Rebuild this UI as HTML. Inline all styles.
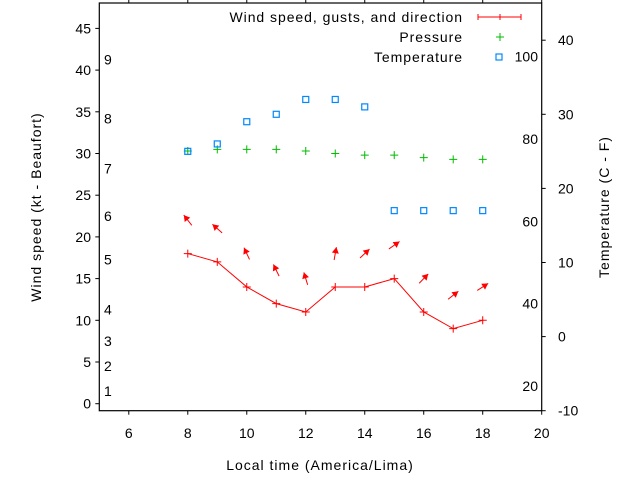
<!DOCTYPE html>
<html><head><meta charset="utf-8"><style>
html,body{margin:0;padding:0;background:#fff;}
svg{display:block;font-family:"Liberation Sans",sans-serif;}
</style></head><body>
<svg id="chart" width="640" height="480" viewBox="0 0 640 480" xmlns="http://www.w3.org/2000/svg"></svg>
<script>
const hours = [8,9,10,11,12,13,14,15,16,17,18];
const windKt = [18,17,14,12,11,14,14,15,11,9,10];
const gustKt = [22,21,18,16,15,18,18,19,15,13,14];
const windDirDeg = [322,312,335,334,343,10,47,55,44,52,57];
const pressure = [30.3,30.5,30.5,30.5,30.3,30.0,29.8,29.8,29.5,29.3,29.3];
const tempC = [25,26,29,30,32,32,31,17,17,17,17];
const xTicks = [6,8,10,12,14,16,18,20];
const yLeftTicks = [0,5,10,15,20,25,30,35,40,45];
const yRightTicks = [-10,0,10,20,30,40];
const beaufort = [[1,1.5],[2,4.5],[3,7.5],[4,11.3],[5,17.3],[6,22.5],[7,28.2],[8,34.2],[9,41.3]];
const fahrenheit = [20,40,60,80,100];

const L=99.3,R=541.7,T=3,B=410.7;
const X0=5,X1=20;
const x = v => L + (v-X0)/(X1-X0)*(R-L);
const yL = v => 403.7 - v*8.34;
const yR = v => 410.7 - (v+10)*7.41;
const NS="http://www.w3.org/2000/svg";
const svg=document.getElementById('chart');
function mk(tag,attrs,parent){const e=document.createElementNS(NS,tag);for(const k in attrs)e.setAttribute(k,attrs[k]);(parent||svg).appendChild(e);return e;}
function txt(s,attrs){const e=mk('text',Object.assign({'font-size':'14',fill:'#000'},attrs));e.textContent=s;return e;}

let frame=mk('rect',{x:L,y:T,width:R-L,height:B-T,fill:'none',stroke:'#000','stroke-width':1.2});



xTicks.forEach(v=>{
  let l=mk('line',{x1:x(v),x2:x(v),y1:B,y2:B+4,stroke:'#000'});
  
  
  let l2=mk('line',{x1:x(v),x2:x(v),y1:T,y2:T-4,stroke:'#000'});
  
  
  let t=txt(String(v),{x:x(v),y:438,'text-anchor':'middle'});
  
  
});
yLeftTicks.forEach(v=>{
  let l=mk('line',{x1:L-4,x2:L,y1:yL(v),y2:yL(v),stroke:'#000'});
  
  
  let t=txt(String(v),{x:91,y:yL(v)+5,'text-anchor':'end'});
  
  
});
yRightTicks.forEach(v=>{
  let l=mk('line',{x1:R,x2:R+4,y1:yR(v),y2:yR(v),stroke:'#000'});
  
  
  let t=txt(String(v),{x:558,y:yR(v)+5});
  
  
});
beaufort.forEach(b=>{
  let t=txt(String(b[0]),{x:104,y:yL(b[1])+5});
  
  
});
fahrenheit.forEach(f=>{
  let c=(f-32)*5/9;
  let t=txt(String(f),{x:538,y:yR(c)+5,'text-anchor':'end'});
  
  
});

let xt=txt('Local time (America/Lima)',{x:320,y:470,'text-anchor':'middle','letter-spacing':'1'});


let ylt=txt('Wind speed (kt - Beaufort)',{x:0,y:0,'text-anchor':'middle','letter-spacing':'1',transform:'translate(41,207) rotate(-90)'});


let yrt=txt('Temperature (C - F)',{x:0,y:0,'text-anchor':'middle','letter-spacing':'1',transform:'translate(609,207) rotate(-90)'});



let pts=hours.map((h,i)=>x(h)+','+yL(windKt[i])).join(' ');
let wl=mk('polyline',{points:pts,fill:'none',stroke:'#f00','stroke-width':1});


hours.forEach((h,i)=>{
  let g=mk('path',{d:`M${x(h)-4},${yL(windKt[i])}h8M${x(h)},${yL(windKt[i])-4}v8`,stroke:'#f00','stroke-width':1});
  
  
});
hours.forEach((h,i)=>{
  const a=windDirDeg[i]*Math.PI/180, len=13;
  const dx=Math.sin(a)*len, dy=-Math.cos(a)*len;
  const cx=x(h), cy=yL(gustKt[i]);
  const x1=cx-dx/2,y1=cy-dy/2,x2=cx+dx/2,y2=cy+dy/2;
  const ux=dx/len,uy=dy/len, hl=6, hw=3.5;
  const bx=x2-ux*hl, by=y2-uy*hl;
  let g=mk('g',{});
  
  
  mk('line',{x1:x1,y1:y1,x2:x2,y2:y2,stroke:'#f00','stroke-width':1},g);
  mk('polygon',{points:`${x2},${y2} ${bx-uy*hw},${by+ux*hw} ${bx+uy*hw},${by-ux*hw}`,fill:'#f00'},g);
});
hours.forEach((h,i)=>{
  let g=mk('path',{d:`M${x(h)-4},${yL(pressure[i])}h8M${x(h)},${yL(pressure[i])-4}v8`,stroke:'#0b0','stroke-width':1});
  
  
});
hours.forEach((h,i)=>{
  let r=mk('rect',{x:x(h)-3,y:yR(tempC[i])-3,width:6,height:6,fill:'none',stroke:'#08f','stroke-width':1.2});
  
  
});

let lg=mk('g',{});


let t1=txt('Wind speed, gusts, and direction',{x:463,y:22,'text-anchor':'end','letter-spacing':'0.95'});


let lw=mk('path',{d:'M478,17h43M478,14v6M521,14v6M500,14v6',stroke:'#f00','stroke-width':1,fill:'none'});


let t2=txt('Pressure',{x:463,y:42,'text-anchor':'end','letter-spacing':'0.95'});


let lp=mk('path',{d:'M496,37h8M500,33v8',stroke:'#0b0','stroke-width':1});


let t3=txt('Temperature',{x:463,y:62,'text-anchor':'end','letter-spacing':'0.95'});


let lt=mk('rect',{x:496,y:54,width:6,height:6,fill:'none',stroke:'#08f','stroke-width':1.2});


</script>
</body></html>
